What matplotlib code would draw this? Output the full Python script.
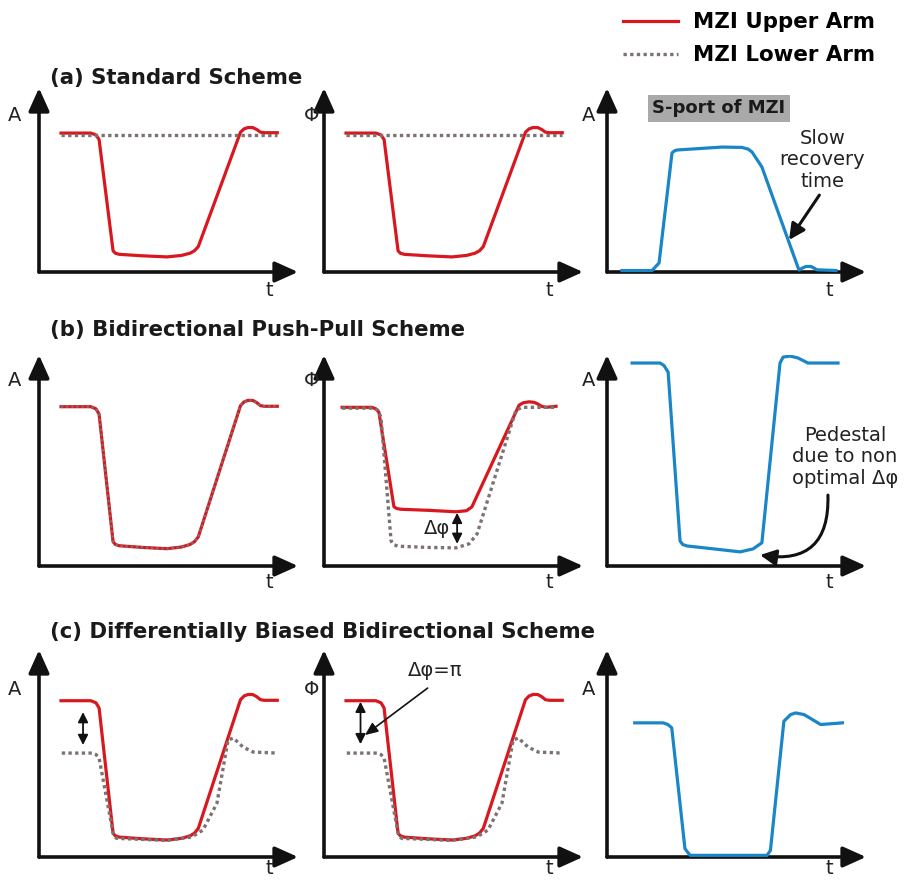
import matplotlib.pyplot as plt
from matplotlib.lines import Line2D

plt.rcParams['font.family'] = ['DejaVu Sans']

RED = '#d8181e'
BLUE = '#1a86c8'
GRAY = '#7c7272'

# time axis and amplitude both in arbitrary units, arrow tip = 10
# upper arm pulse (same drawing reused in several panels)
pulse_t = [0.85, 2.0, 2.2, 2.32, 2.86, 2.95, 3.1, 4.0, 4.94, 5.5, 5.83, 6.0, 6.15, 7.78, 7.92, 8.07, 8.25, 8.4, 8.55, 8.7, 9.2]
pulse_v = [7.55, 7.55, 7.45, 7.2, 1.15, 1.02, 0.96, 0.88, 0.82, 0.9, 1.02, 1.15, 1.38, 7.6, 7.78, 7.85, 7.85, 7.75, 7.6, 7.57, 7.57]

# (a) lower arm stays flat
flat_t = [0.85, 9.2]
flat_v = [7.45, 7.45]

# (a) S-port output
sport_a_t = [0.58, 1.74, 2.01, 2.51, 2.6, 2.7, 4.44, 5.21, 5.45, 5.6, 5.98, 7.41, 7.55, 7.68, 7.88, 8.11, 8.84]
sport_a_v = [0.08, 0.08, 0.49, 6.47, 6.58, 6.63, 6.79, 6.77, 6.68, 6.52, 5.71, 0.11, 0.22, 0.3, 0.3, 0.12, 0.08]

# (b) phase panel
phase_b_up_t = [0.7, 1.85, 2.0, 2.12, 2.7, 2.8, 2.95, 4.0, 5.1, 5.5, 5.71, 7.53, 7.7, 7.92, 8.1, 8.22, 8.4, 8.57, 8.96]
phase_b_up_v = [7.52, 7.52, 7.45, 7.29, 2.81, 2.73, 2.69, 2.64, 2.57, 2.62, 2.8, 7.62, 7.74, 7.78, 7.76, 7.7, 7.57, 7.52, 7.57]
phase_b_lo_t = [0.7, 1.93, 2.08, 2.2, 2.59, 2.68, 2.85, 4.0, 5.1, 5.6, 5.91, 7.41, 7.64, 8.96]
phase_b_lo_v = [7.48, 7.48, 7.38, 7.05, 1.19, 1.02, 0.94, 0.88, 0.86, 1.05, 1.52, 7.38, 7.52, 7.52]

# (b) S-port output
sport_b_t = [0.97, 2.05, 2.2, 2.36, 2.82, 2.92, 3.09, 4.2, 5.14, 5.64, 5.98, 6.68, 6.8, 7.07, 7.37, 7.76, 8.92]
sport_b_v = [9.62, 9.62, 9.5, 9.19, 1.19, 1.02, 0.95, 0.8, 0.67, 0.81, 1.1, 9.62, 9.9, 9.95, 9.86, 9.62, 9.62]

# (c) lower arm, biased
lower_c_t = [0.88, 2.05, 2.2, 2.32, 2.86, 2.92, 3.0, 4.0, 4.94, 5.9, 6.33, 6.87, 7.3, 7.5, 7.88, 8.27, 9.2]
lower_c_v = [5.02, 5.02, 4.95, 4.78, 1.16, 0.98, 0.9, 0.85, 0.8, 0.97, 1.3, 2.6, 5.65, 5.75, 5.31, 5.07, 5.02]

# (c) S-port output
sport_c_t = [1.07, 2.17, 2.35, 2.5, 3.01, 3.21, 6.18, 6.31, 6.83, 7.09, 7.28, 7.61, 8.25, 9.09]
sport_c_v = [6.48, 6.48, 6.4, 6.24, 0.4, 0.08, 0.08, 0.32, 6.56, 6.88, 6.96, 6.88, 6.4, 6.48]

titles = ['(a) Standard Scheme', '(b) Bidirectional Push-Pull Scheme',
          '(c) Differentially Biased Bidirectional Scheme']
title_y = [78, 330, 632]
ylabels = ['A', 'Φ', 'A']

W, H = 907, 882
col_x = [39, 324, 607]
col_w = 259
rows = [(272, 88), (566, 355), (857, 650)]
lab_dx = [-24, -12, -18]
lab_fy = [0.85, 0.88, 0.81]
t_fx = [0.89, 0.87, 0.857]
t_dy = [-18, -17, -12]

fig = plt.figure(figsize=(W / 100, H / 100), dpi=100)

axes = []
for r, (y0, ytip) in enumerate(rows):
    row = []
    for c, x0 in enumerate(col_x):
        ax = fig.add_axes([x0 / W, (H - y0) / H, col_w / W, (y0 - ytip) / H])
        ax.set_xlim(0, 10)
        ax.set_ylim(0, 10)
        ax.axis('off')
        arrow = dict(arrowstyle='-|>,head_length=1.0,head_width=0.45', lw=2.6,
                     color='#111111', mutation_scale=14, shrinkA=0, shrinkB=0)
        ax.annotate('', xy=(0, 1), xytext=(0, 0), xycoords='axes fraction', arrowprops=arrow)
        ax.annotate('', xy=(1, 0), xytext=(0, 0), xycoords='axes fraction', arrowprops=arrow)
        ax.annotate(ylabels[c], xy=(0, lab_fy[r]), xycoords='axes fraction',
                    xytext=(lab_dx[c], 0), textcoords='offset pixels',
                    ha='center', va='center', fontsize=14, color='#222222')
        ax.annotate('t', xy=(t_fx[c], 0), xycoords='axes fraction',
                    xytext=(0, t_dy[r]), textcoords='offset pixels',
                    ha='center', va='center', fontsize=14, color='#222222')
        row.append(ax)
    axes.append(row)
    fig.text(50 / W, 1 - title_y[r] / H, titles[r], fontsize=15.3, fontweight='bold',
             ha='left', va='center', color='#1a1a1a')

lw = 2.3
dot = dict(color=GRAY, lw=2.4, linestyle=(0, (1, 1)), dash_capstyle='butt', zorder=4)

# row (a)
for ax in axes[0][:2]:
    ax.plot(pulse_t, pulse_v, color=RED, lw=lw, zorder=3, solid_joinstyle='round')
    ax.plot(flat_t, flat_v, **dot)
ax = axes[0][2]
ax.plot(sport_a_t, sport_a_v, color=BLUE, lw=lw, zorder=5, clip_on=False, solid_joinstyle='round')
ax.text(4.32, 8.91, 'S-port of MZI', fontsize=13, fontweight='bold', ha='center', va='center',
        color='#1a1a1a', bbox=dict(boxstyle='square,pad=0.25', fc='#a9a9a9', ec='none'))
ax.text(8.32, 6.09, 'Slow\nrecovery\ntime', fontsize=14, ha='center', va='center',
        linespacing=1.15, color='#222222')
ax.annotate('', xy=(7.03, 1.74), xytext=(8.2, 4.18),
            arrowprops=dict(arrowstyle='-|>,head_length=0.8,head_width=0.4', lw=2.2,
                            color='#111111', mutation_scale=12, shrinkA=0, shrinkB=0))

# row (b)
ax = axes[1][0]
ax.plot(pulse_t, pulse_v, color=RED, lw=lw, zorder=3, solid_joinstyle='round')
ax.plot(pulse_t, pulse_v, color=GRAY, lw=1.6, linestyle=(0, (1, 1.3)), zorder=4)
ax = axes[1][1]
ax.plot(phase_b_up_t, phase_b_up_v, color=RED, lw=lw, zorder=3, solid_joinstyle='round')
ax.plot(phase_b_lo_t, phase_b_lo_v, **dot)
ax.annotate('', xy=(5.14, 1.05), xytext=(5.14, 2.52),
            arrowprops=dict(arrowstyle='<|-|>,head_length=0.6,head_width=0.3', lw=1.3,
                            color='#111111', mutation_scale=10, shrinkA=0, shrinkB=0))
ax.text(4.36, 1.76, 'Δφ', fontsize=14, ha='center', va='center', color='#222222')
ax = axes[1][2]
ax.plot(sport_b_t, sport_b_v, color=BLUE, lw=lw, zorder=5, solid_joinstyle='round')
ax.text(9.19, 5.17, 'Pedestal\ndue to non\noptimal Δφ', fontsize=14, ha='center', va='center',
        linespacing=1.15, color='#222222')
ax.annotate('', xy=(5.91, 0.52), xytext=(8.53, 3.36),
            arrowprops=dict(arrowstyle='-|>,head_length=0.8,head_width=0.4', lw=2.2,
                            color='#111111', mutation_scale=12, shrinkA=0, shrinkB=0,
                            connectionstyle='arc3,rad=-0.6'))

# row (c)
for c in range(2):
    ax = axes[2][c]
    ax.plot(pulse_t, pulse_v, color=RED, lw=lw, zorder=3, solid_joinstyle='round')
    ax.plot(lower_c_t, lower_c_v, **dot)
dbl = dict(arrowstyle='<|-|>,head_length=0.6,head_width=0.3', lw=1.3,
           color='#111111', mutation_scale=10, shrinkA=0, shrinkB=0)
axes[2][0].annotate('', xy=(1.7, 5.41), xytext=(1.7, 7.0), arrowprops=dbl)
axes[2][1].annotate('', xy=(1.41, 5.45), xytext=(1.41, 7.5), arrowprops=dbl)
axes[2][1].text(4.29, 9.03, 'Δφ=π', fontsize=14, ha='center', va='center', color='#222222')
axes[2][1].annotate('', xy=(1.58, 5.89), xytext=(4.0, 8.16),
                    arrowprops=dict(arrowstyle='-|>,head_length=0.7,head_width=0.3', lw=1.2,
                                    color='#111111', mutation_scale=11, shrinkA=0, shrinkB=0))
axes[2][2].plot(sport_c_t, sport_c_v, color=BLUE, lw=lw, zorder=5, clip_on=False,
                solid_joinstyle='round')

handles = [Line2D([], [], color=RED, lw=lw),
           Line2D([], [], color=GRAY, lw=2.4, linestyle=(0, (1, 1)), dash_capstyle='butt')]
fig.legend(handles, ['MZI Upper Arm', 'MZI Lower Arm'], loc='upper left',
           bbox_to_anchor=(623 / W, 1 - 12 / H), frameon=False, borderpad=0, borderaxespad=0,
           handlelength=2.57, handletextpad=0.7, labelspacing=0.62,
           prop=dict(weight='bold', size=15.4))

fig.savefig('out.png', dpi=100)
